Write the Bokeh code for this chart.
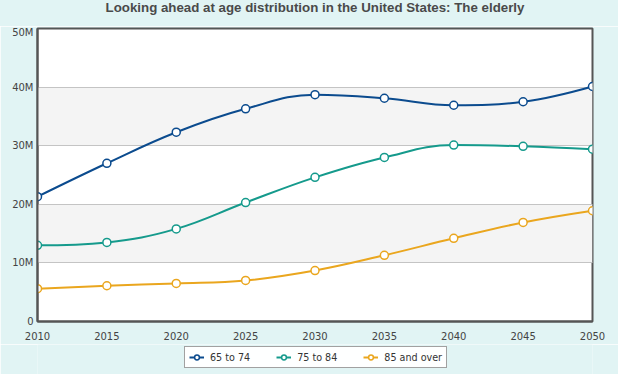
from bokeh.plotting import figure
from bokeh.layouts import column
from bokeh.models import Range1d, FixedTicker, Legend, LegendItem, Div
from bokeh.embed import file_html
from bokeh.resources import INLINE

# ---- data (millions) ----
years = [2010, 2015, 2020, 2025, 2030, 2035, 2040, 2045, 2050]
age_65_74 = [21.3, 27.0, 32.3, 36.3, 38.7, 38.1, 36.9, 37.5, 40.1]
age_75_84 = [13.0, 13.5, 15.8, 20.3, 24.6, 28.0, 30.1, 29.9, 29.4]
age_85_up = [5.6, 6.1, 6.5, 7.0, 8.7, 11.3, 14.2, 16.9, 18.9]
series_names = ["65 to 74", "75 to 84", "85 and over"]
series_colors = ["#0b4b8e", "#159a8c", "#eaa61e"]
y_ticks = [0, 10, 20, 30, 40, 50]
y_tick_labels = ["0", "10M", "20M", "30M", "40M", "50M"]
x_ticks = years
title_text = "Looking ahead at age distribution in the United States: The elderly"

BG = "#e1f4f4"

def spline(xs, ys, smoothing=1.5):
    n = len(xs)
    lcx, lcy, rcx, rcy = list(xs), list(ys), list(xs), list(ys)
    d = smoothing + 1
    for i in range(1, n - 1):
        px, py = xs[i], ys[i]
        lx, ly = xs[i - 1], ys[i - 1]
        nx, ny = xs[i + 1], ys[i + 1]
        a = (smoothing * px + lx) / d
        b = (smoothing * py + ly) / d
        c = (smoothing * px + nx) / d
        e = (smoothing * py + ny) / d
        corr = ((e - b) * (c - px)) / (c - a) + py - e
        b += corr
        e += corr
        if b > ly and b > py:
            b = max(ly, py)
            e = 2 * py - b
        elif b < ly and b < py:
            b = min(ly, py)
            e = 2 * py - b
        if e > ny and e > py:
            e = max(ny, py)
            b = 2 * py - e
        elif e < ny and e < py:
            e = min(ny, py)
            b = 2 * py - e
        lcx[i], lcy[i], rcx[i], rcy[i] = a, b, c, e
    return dict(
        x0=xs[:-1], y0=ys[:-1], x1=xs[1:], y1=ys[1:],
        cx0=rcx[:-1], cy0=rcy[:-1], cx1=lcx[1:], cy1=lcy[1:],
    )

# title strip
title_div = Div(
    text=title_text, width=618, height=26,
    styles={
        "background-color": BG,
        "font-family": "Liberation Sans, Arial, sans-serif",
        "font-weight": "bold",
        "font-size": "13.3px",
        "line-height": "16px",
        "color": "#4a4a4a",
        "text-align": "center",
        "padding-left": "12px",
        "box-sizing": "border-box",
        "margin": "0",
    },
)

p = figure(
    width=618, height=318,
    x_range=Range1d(years[0], years[-1]), y_range=Range1d(0, 50),
    output_backend="svg", toolbar_location=None,
    background_fill_color="white", border_fill_color=BG,
    min_border_left=37, min_border_right=26, min_border_top=2, min_border_bottom=23,
)
p.title.visible = False

p.outline_line_color = "#555555"
p.outline_line_width = 2

p.xgrid.grid_line_color = None
p.ygrid.grid_line_color = "#c4c4c4"
p.ygrid.grid_line_width = 1
p.ygrid.band_fill_color = "#f4f4f4"
p.ygrid.band_fill_alpha = 1.0

for ax in (p.xaxis[0], p.yaxis[0]):
    ax.axis_line_color = "#555555"
    ax.axis_line_width = 2
    ax.major_tick_line_color = None
    ax.minor_tick_line_color = None
    ax.major_tick_out = 0
    ax.major_tick_in = 0
    ax.minor_tick_out = 0
    ax.minor_tick_in = 0
    ax.major_label_text_font = "DejaVu Sans"
    ax.major_label_text_font_size = "10px"
    ax.major_label_text_color = "#444444"

p.xaxis[0].ticker = FixedTicker(ticks=x_ticks)
p.xaxis[0].major_label_standoff = 10
p.yaxis[0].ticker = FixedTicker(ticks=y_ticks)
p.yaxis[0].major_label_overrides = {t: l for t, l in zip(y_ticks, y_tick_labels)}
p.yaxis[0].major_label_standoff = 4

# legend strip below the chart (its frame is aligned with the chart frame)
pl = figure(
    width=618, height=30, x_range=Range1d(0, 1), y_range=Range1d(0, 1),
    output_backend="svg", toolbar_location=None,
    background_fill_color=BG, border_fill_color=BG,
    min_border=0, outline_line_color=None,
)
pl.axis.visible = False
pl.grid.visible = False

items = []
for name, vals, col in zip(series_names, [age_65_74, age_75_84, age_85_up], series_colors):
    seg = spline(years, vals)
    p.bezier(source=seg, x0="x0", y0="y0", x1="x1", y1="y1",
             cx0="cx0", cy0="cy0", cx1="cx1", cy1="cy1",
             line_color=col, line_width=2)
    p.scatter(years, vals, size=8, marker="circle", fill_color="white",
              line_color=col, line_width=1.5)
    # legend swatches: same series, lying outside this strip's ranges
    kl = pl.line(years, vals, line_color=col, line_width=2)
    ks = pl.scatter(years, vals, size=8, marker="circle", fill_color="white",
                    line_color=col, line_width=1.5)
    items.append(LegendItem(label=name, renderers=[kl, ks]))

legend = Legend(items=items, orientation="horizontal", location=(147, 6))
legend.label_text_font = "DejaVu Sans"
legend.label_text_font_size = "9.6px"
legend.label_text_color = "#333333"
legend.border_line_color = "#444444"
legend.border_line_width = 1
legend.background_fill_color = "white"
legend.glyph_width = 15
legend.glyph_height = 12
legend.label_standoff = 6
legend.spacing = 26
legend.padding = 4
legend.margin = 0
pl.add_layout(legend, "center")

layout = column(title_div, p, pl, spacing=0)
open("out.html", "w").write(file_html(layout, INLINE))
